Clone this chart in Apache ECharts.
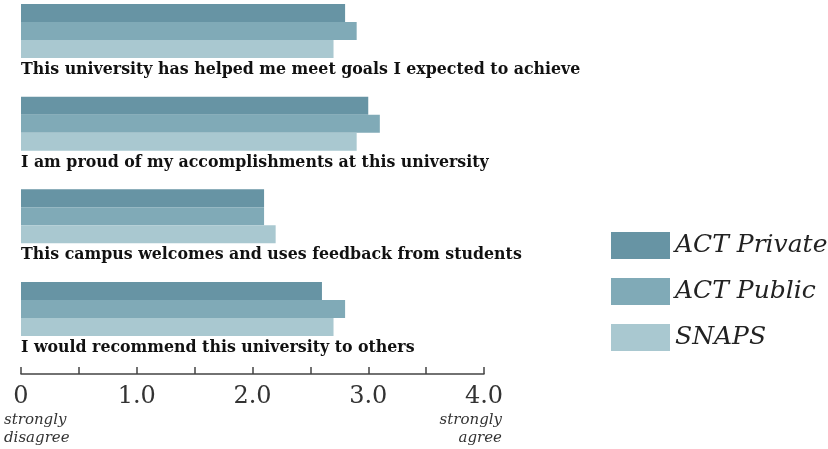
<!DOCTYPE html>
<html>
<head>
<meta charset="utf-8">
<script src="https://cdn.jsdelivr.net/npm/echarts@6/dist/echarts.min.js"></script>
<style>
  html, body { margin: 0; padding: 0; background: #fff; }
  #chart { width: 828px; height: 449px; }
</style>
</head>
<body>
<div id="chart"></div>
<script>
// Survey statements, top to bottom
const statements = [
  'This university has helped me meet goals I expected to achieve',
  'I am proud of my accomplishments at this university',
  'This campus welcomes and uses feedback from students',
  'I would recommend this university to others'
];
const seriesNames = ['ACT Private', 'ACT Public', 'SNAPS'];
const actPrivate = [2.8, 3.0, 2.1, 2.6];
const actPublic  = [2.9, 3.1, 2.1, 2.8];
const snaps      = [2.7, 2.9, 2.2, 2.7];
const tickLabels = { 0: '0', 1: '1.0', 2: '2.0', 3: '3.0', 4: '4.0' };

const colors = ['#6794a4', '#80aab7', '#a9c8d0'];
const serif = '"DejaVu Serif", "Liberation Serif", serif';

const chart = echarts.init(document.getElementById('chart'), null, { renderer: 'canvas' });

function barSeries(name, data, color) {
  return {
    name: name,
    type: 'bar',
    data: data,
    barWidth: 18,
    barGap: '0%',
    itemStyle: { color: color },
    emphasis: { disabled: true }
  };
}

chart.setOption({
  animation: false,
  color: colors,
  grid: {
    left: 21, right: 344, top: -15.33, bottom: 93.67,
    outerBoundsMode: 'none', containLabel: false
  },
  xAxis: {
    type: 'value',
    min: 0, max: 4, interval: 0.5,
    offset: 18.67,
    splitLine: { show: false },
    axisLine: { show: true, lineStyle: { color: '#444', width: 1.5 } },
    axisTick: { show: true, inside: true, length: 7, lineStyle: { color: '#444', width: 1.5 } },
    axisLabel: {
      margin: 11,
      fontFamily: serif,
      fontSize: 24,
      color: '#333',
      formatter: v => (tickLabels[v] !== undefined ? tickLabels[v] : '')
    }
  },
  yAxis: {
    type: 'category',
    data: statements,
    inverse: true,
    z: 10,
    axisLine: { show: false },
    axisTick: { show: false },
    axisLabel: {
      inside: true,
      margin: 0,
      align: 'left',
      verticalAlign: 'middle',
      // an empty spacer line pushes each statement below its bar group
      formatter: v => '{gap|}\n{t|' + v + '}',
      rich: {
        gap: { lineHeight: 78, fontSize: 1 },
        t: {
          fontFamily: serif, fontWeight: 'bold', fontSize: 15.8,
          lineHeight: 16, color: '#111'
        }
      }
    }
  },
  legend: {
    orient: 'vertical',
    left: 611,
    top: 232,
    padding: 0,
    itemWidth: 59,
    itemHeight: 27,
    itemGap: 19,
    icon: 'rect',
    selectedMode: false,
    data: seriesNames,
    textStyle: {
      fontFamily: serif,
      fontStyle: 'italic',
      fontSize: 25,
      color: '#222'
    }
  },
  graphic: [
    {
      type: 'text', x: 4, y: 411,
      style: {
        text: 'strongly\ndisagree', font: 'italic 15px ' + serif,
        fill: '#333', lineHeight: 18, align: 'left'
      }
    },
    {
      type: 'text', x: 502, y: 411,
      style: {
        text: 'strongly\nagree', font: 'italic 15px ' + serif,
        fill: '#333', lineHeight: 18, align: 'right'
      }
    }
  ],
  series: [
    barSeries(seriesNames[0], actPrivate, colors[0]),
    barSeries(seriesNames[1], actPublic, colors[1]),
    barSeries(seriesNames[2], snaps, colors[2])
  ]
});
</script>
</body>
</html>
